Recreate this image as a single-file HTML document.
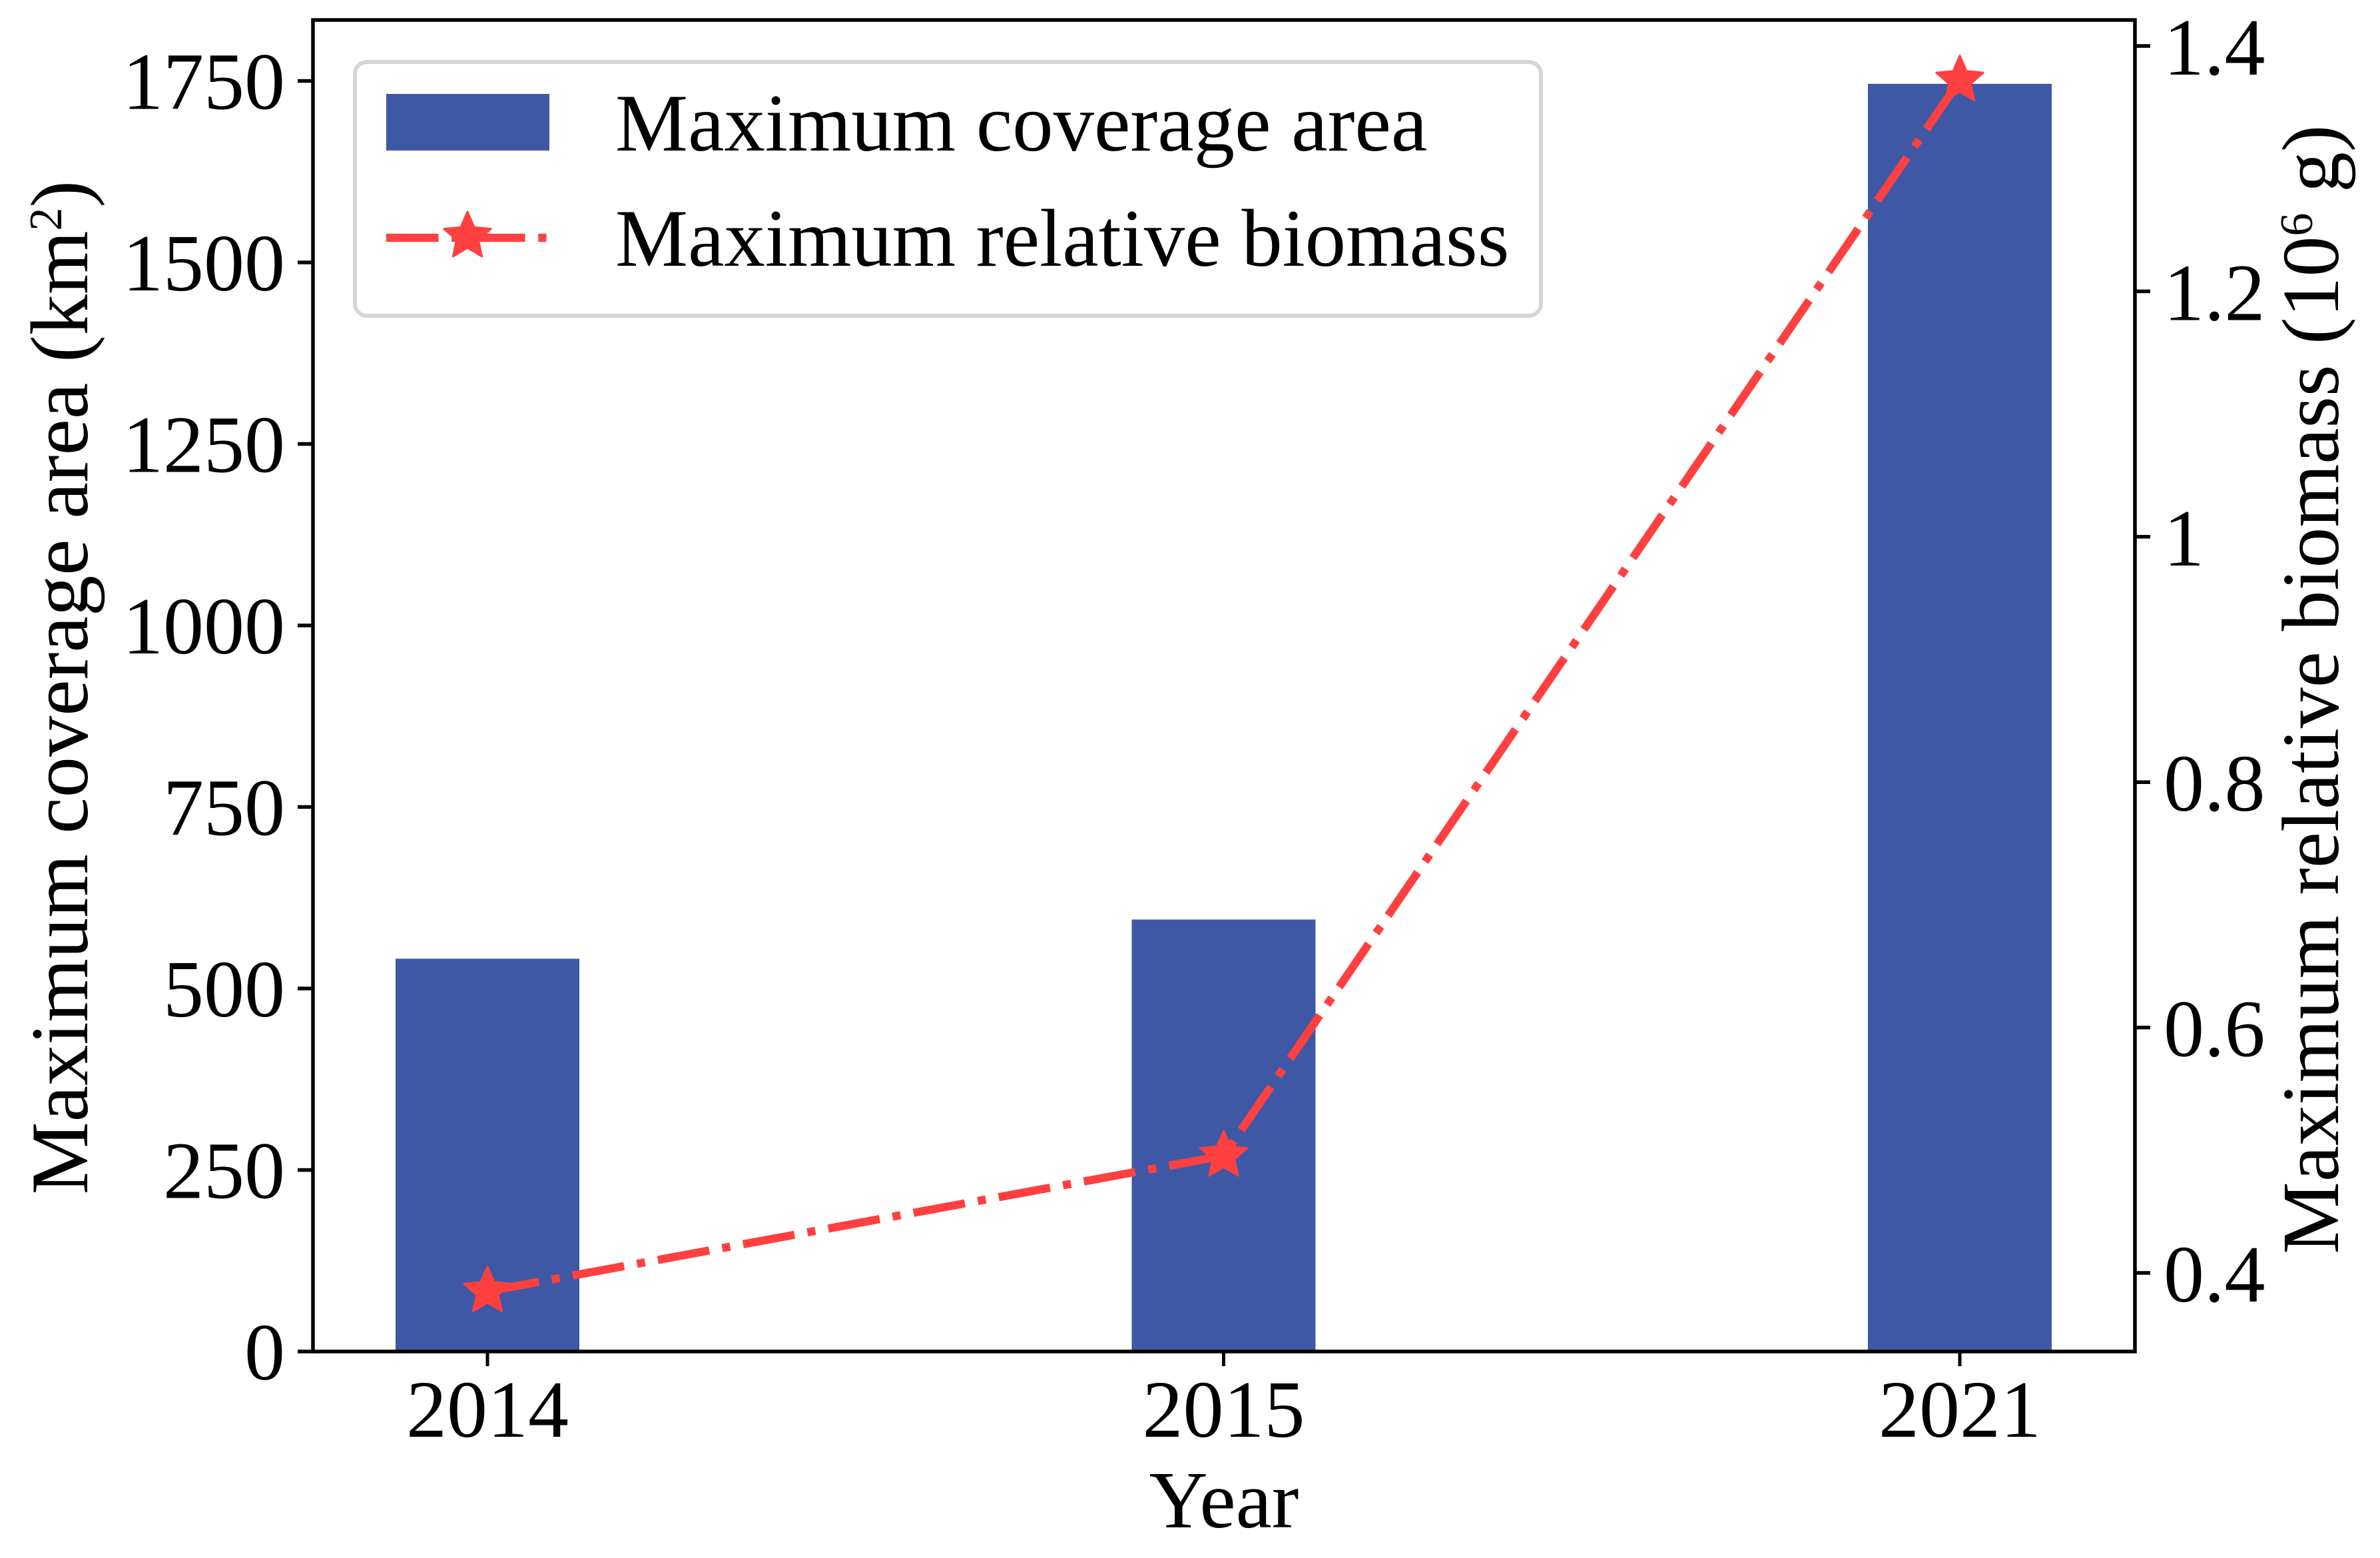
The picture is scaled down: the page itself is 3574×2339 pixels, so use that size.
<!DOCTYPE html>
<html lang="en">
<head>
<meta charset="utf-8">
<title>Maximum coverage area and relative biomass</title>
<style>
  html, body { margin: 0; padding: 0; background: #fff; }
  #chart { display: block; width: 3574px; height: 2339px; }
  text { font-family: "Liberation Serif", "Times New Roman", serif; font-size: 122px; fill: #000; }
  text.title { font-size: 122.6px; }
  text.legend-text { font-size: 122.7px; }
  tspan.sup { font-size: 70px; }
</style>
</head>
<body>
<svg id="chart" xmlns="http://www.w3.org/2000/svg" width="3574" height="2339" viewBox="0 0 3574 2339">
  <rect x="0" y="0" width="3574" height="2339" fill="#ffffff"/>
  <g id="bars"></g>
  <g id="line-layer"></g>
  <g id="axes"></g>

  <text class="title" x="131" y="1032" text-anchor="middle" transform="rotate(-90 131 1032)">Maximum coverage area (km<tspan class="sup" dy="-39">2</tspan><tspan dy="39">)</tspan></text>
  <text x="3511" y="1035" text-anchor="middle" transform="rotate(-90 3511 1035)">Maximum relative biomass (10<tspan class="sup" dy="-39">6</tspan><tspan dy="39"> g)</tspan></text>
  <text x="1838" y="2293" text-anchor="middle">Year</text>

  <g>
    <rect x="533" y="93" width="1781" height="381" rx="18" ry="18" fill="#ffffff" stroke="#d6d6d6" stroke-width="6"/>
    <rect x="580" y="141" width="245" height="85" fill="#3f58a5"/>
    <line x1="580" y1="357" x2="825" y2="357" stroke="#ff4040" stroke-width="12.3" stroke-dasharray="78.5 19.65 12.3 19.65"/>
    <polygon id="legend-star" fill="#ff4040" stroke="#ff4040" stroke-width="3" stroke-linejoin="round"/>
    <text class="legend-text" x="924" y="226">Maximum coverage area</text>
    <text class="legend-text" x="924" y="399">Maximum relative biomass</text>
  </g>
</svg>
<script>
const categories = ['2014', '2015', '2021'];
const coverageArea = [541, 595, 1746];
const relativeBiomass = [0.385, 0.4955, 1.372];
const leftTicks = [0, 250, 500, 750, 1000, 1250, 1500, 1750];
const rightTicks = [0.4, 0.6, 0.8, 1, 1.2, 1.4];

const NS = 'http://www.w3.org/2000/svg';
const plotLeft = 470, plotRight = 3206, plotTop = 30, plotBottom = 2029;

function xPos(i) { return 732 + i * 1105.5; }
function yLeft(v) { return 2029 - v * 1.09; }
function yRight(v) { return 1911 - (v - 0.4) * 1842; }

function starPoints(cx, cy, r) {
  const pts = [];
  for (let k = 0; k < 10; k++) {
    const rad = k % 2 === 0 ? r : r * 0.46;
    const ang = -Math.PI / 2 + k * Math.PI / 5;
    pts.push((cx + rad * Math.cos(ang)).toFixed(1) + ',' + (cy + rad * Math.sin(ang)).toFixed(1));
  }
  return pts.join(' ');
}

const barsLayer = document.getElementById('bars');
const lineLayer = document.getElementById('line-layer');
const axesLayer = document.getElementById('axes');
const barWidth = 276;

categories.forEach(function (year, i) {
  const bar = document.createElementNS(NS, 'rect');
  bar.setAttribute('x', xPos(i) - barWidth / 2);
  bar.setAttribute('y', yLeft(coverageArea[i]));
  bar.setAttribute('width', barWidth);
  bar.setAttribute('height', plotBottom - yLeft(coverageArea[i]));
  bar.setAttribute('fill', '#3f58a5');
  
  
  barsLayer.appendChild(bar);
});

const biomassLine = document.createElementNS(NS, 'polyline');
biomassLine.setAttribute('points', categories.map(function (c, i) {
  return xPos(i) + ',' + yRight(relativeBiomass[i]);
}).join(' '));
biomassLine.setAttribute('fill', 'none');
biomassLine.setAttribute('stroke', '#ff4040');
biomassLine.setAttribute('stroke-width', '12.3');
biomassLine.setAttribute('stroke-dasharray', '78.5 19.65 12.3 19.65');


lineLayer.appendChild(biomassLine);

categories.forEach(function (year, i) {
  const star = document.createElementNS(NS, 'polygon');
  star.setAttribute('points', starPoints(xPos(i), yRight(relativeBiomass[i]), 37));
  star.setAttribute('fill', '#ff4040');
  star.setAttribute('stroke', '#ff4040');
  star.setAttribute('stroke-width', '3');
  star.setAttribute('stroke-linejoin', 'round');
  
  
  lineLayer.appendChild(star);
});

document.getElementById('legend-star').setAttribute('points', starPoints(702, 355, 37));

const frame = document.createElementNS(NS, 'rect');
frame.setAttribute('x', plotLeft);
frame.setAttribute('y', plotTop);
frame.setAttribute('width', plotRight - plotLeft);
frame.setAttribute('height', plotBottom - plotTop);
frame.setAttribute('fill', 'none');
frame.setAttribute('stroke', '#000');
frame.setAttribute('stroke-width', '5.5');


axesLayer.appendChild(frame);

leftTicks.forEach(function (v) {
  const y = yLeft(v);
  const tick = document.createElementNS(NS, 'line');
  tick.setAttribute('x1', plotLeft - 23);
  tick.setAttribute('x2', plotLeft);
  tick.setAttribute('y1', y);
  tick.setAttribute('y2', y);
  tick.setAttribute('stroke', '#000');
  tick.setAttribute('stroke-width', '5.5');
  
  
  axesLayer.appendChild(tick);
  const label = document.createElementNS(NS, 'text');
  label.setAttribute('x', 428);
  label.setAttribute('y', y + 42);
  label.setAttribute('text-anchor', 'end');
  
  
  label.textContent = String(v);
  axesLayer.appendChild(label);
});

rightTicks.forEach(function (v) {
  const y = yRight(v);
  const tick = document.createElementNS(NS, 'line');
  tick.setAttribute('x1', plotRight);
  tick.setAttribute('x2', plotRight + 23);
  tick.setAttribute('y1', y);
  tick.setAttribute('y2', y);
  tick.setAttribute('stroke', '#000');
  tick.setAttribute('stroke-width', '5.5');
  
  
  axesLayer.appendChild(tick);
  const label = document.createElementNS(NS, 'text');
  label.setAttribute('x', 3249);
  label.setAttribute('y', y + 43);
  label.setAttribute('text-anchor', 'start');
  
  
  label.textContent = String(v);
  axesLayer.appendChild(label);
});

categories.forEach(function (year, i) {
  const tick = document.createElementNS(NS, 'line');
  tick.setAttribute('x1', xPos(i));
  tick.setAttribute('x2', xPos(i));
  tick.setAttribute('y1', plotBottom);
  tick.setAttribute('y2', plotBottom + 22);
  tick.setAttribute('stroke', '#000');
  tick.setAttribute('stroke-width', '5');
  
  
  axesLayer.appendChild(tick);
  const label = document.createElementNS(NS, 'text');
  label.setAttribute('x', xPos(i));
  label.setAttribute('y', 2157);
  label.setAttribute('text-anchor', 'middle');
  
  
  label.textContent = year;
  axesLayer.appendChild(label);
});
</script>
</body>
</html>
